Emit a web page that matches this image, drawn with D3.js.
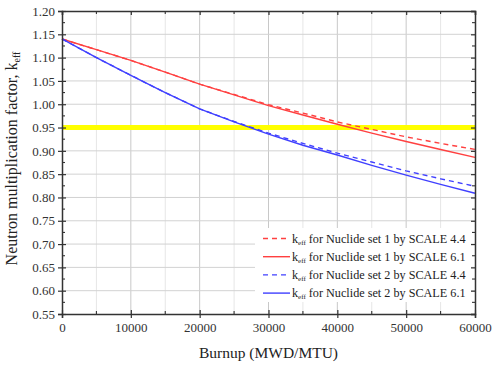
<!DOCTYPE html>
<html>
<head>
<meta charset="utf-8">
<script src="https://cdn.jsdelivr.net/npm/d3@7"></script>
<style>
  html, body { margin: 0; padding: 0; background: #fff; }
  svg { display: block; font-family: "Liberation Serif", "Times New Roman", serif; }
</style>
</head>
<body>
<svg id="chart" width="495" height="367"></svg>
<script>
// Burnup steps (MWD/MTU)
const burnup = [0, 5000, 10000, 15000, 20000, 25000, 30000, 35000, 40000, 45000, 50000, 55000, 60000];

// k_eff series
const set1Scale44 = [1.140, 1.117, 1.094, 1.069, 1.043, 1.021, 0.999, 0.981, 0.962, 0.946, 0.930, 0.916, 0.903];
const set1Scale61 = [1.140, 1.117, 1.094, 1.069, 1.043, 1.020, 0.997, 0.977, 0.957, 0.938, 0.920, 0.903, 0.886];
const set2Scale44 = [1.140, 1.100, 1.062, 1.025, 0.990, 0.963, 0.938, 0.916, 0.895, 0.876, 0.857, 0.840, 0.824];
const set2Scale61 = [1.140, 1.100, 1.062, 1.025, 0.990, 0.962, 0.936, 0.912, 0.891, 0.869, 0.848, 0.828, 0.809];

const limitValue = 0.95;

const xTicks = [0, 10000, 20000, 30000, 40000, 50000, 60000];
const yTicks = [0.55, 0.60, 0.65, 0.70, 0.75, 0.80, 0.85, 0.90, 0.95, 1.00, 1.05, 1.10, 1.15, 1.20];

const seriesNames = [
  "for Nuclide set 1 by SCALE 4.4",
  "for Nuclide set 1 by SCALE 6.1",
  "for Nuclide set 2 by SCALE 4.4",
  "for Nuclide set 2 by SCALE 6.1"
];
const seriesColors = ["#ff4040", "#ff4040", "#4040ff", "#4040ff"];
const seriesDashed = [true, false, true, false];
const seriesValues = [set1Scale44, set1Scale61, set2Scale44, set2Scale61];

const margin = { left: 62, right: 20, top: 11, bottom: 53 };
const W = 495, H = 367;
const svg = d3.select("#chart");

const x = d3.scaleLinear().domain([0, 60000]).range([margin.left, W - margin.right]);
const y = d3.scaleLinear().domain([0.55, 1.20]).range([H - margin.bottom, margin.top]);

const x0 = x.range()[0], x1 = x.range()[1];
const yb = y.range()[0], yt = y.range()[1];

// grid
const grid = svg.append("g");
const minorX = d3.range(5000, 60000, 10000);
grid.selectAll("line.mx").data(minorX).join("line")
  .attr("x1", d => x(d)).attr("x2", d => x(d)).attr("y1", yt).attr("y2", yb)
  .attr("stroke", "#e6e6e6").attr("stroke-width", 1);
grid.selectAll("line.gx").data(xTicks.slice(1, -1)).join("line")
  .attr("x1", d => x(d)).attr("x2", d => x(d)).attr("y1", yt).attr("y2", yb)
  .attr("stroke", "#c8c8c8").attr("stroke-width", 1);
grid.selectAll("line.gy").data(yTicks.slice(1, -1)).join("line")
  .attr("x1", x0).attr("x2", x1).attr("y1", d => y(d)).attr("y2", d => y(d))
  .attr("stroke", "#d2d2d2").attr("stroke-width", 1);

// 0.95 limit line
svg.append("line")
  .attr("x1", x0).attr("x2", x1)
  .attr("y1", y(limitValue)).attr("y2", y(limitValue))
  .attr("stroke", "#ffff00").attr("stroke-width", 5);

// series
const line = d3.line().x((d, i) => x(burnup[i])).y(d => y(d));
const plot = svg.append("g");
seriesValues.forEach((vals, k) => {
  plot.append("path")
    .datum(vals)
    .attr("d", line)
    .attr("fill", "none")
    .attr("stroke", seriesColors[k])
    .attr("stroke-width", 1.4)
    .attr("stroke-dasharray", seriesDashed[k] ? "5,4" : null);
});

// legend
const legend = svg.append("g");
legend.append("rect")
  .attr("x", 255).attr("y", 228).attr("width", 216).attr("height", 74)
  .attr("fill", "#fff");
seriesNames.forEach((name, k) => {
  const ly = 238.5 + k * 18.2;
  legend.append("line")
    .attr("x1", 263).attr("x2", 290).attr("y1", ly).attr("y2", ly)
    .attr("stroke", seriesColors[k]).attr("stroke-width", 1.4)
    .attr("stroke-dasharray", seriesDashed[k] ? "5,4" : null);
  const t = legend.append("text")
    .attr("x", 292).attr("y", ly + 4)
    .attr("font-size", 12.2).attr("fill", "#222");
  t.append("tspan").text("k");
  t.append("tspan").attr("font-size", 7).attr("dy", 2).text("eff");
  t.append("tspan").attr("dy", -2).text(" " + name);
});

// axes
const axisColor = "#333";
const fmtY = d3.format(".2f");

const axBottom = svg.append("g").attr("transform", `translate(0,${yb})`)
  .call(d3.axisBottom(x).tickValues(xTicks).tickFormat(d3.format("d")).tickSize(4).tickPadding(5));
const axLeft = svg.append("g").attr("transform", `translate(${x0},0)`)
  .call(d3.axisLeft(y).tickValues(yTicks).tickFormat(fmtY).tickSize(4).tickPadding(3));
const axTop = svg.append("g").attr("transform", `translate(0,${yt})`)
  .call(d3.axisBottom(x).tickValues(xTicks).tickFormat("").tickSize(4));
const axRight = svg.append("g").attr("transform", `translate(${x1},0)`)
  .call(d3.axisLeft(y).tickValues(yTicks).tickFormat("").tickSize(4));

[axBottom, axLeft, axTop, axRight].forEach(g => {
  g.select(".domain").attr("stroke", axisColor).attr("stroke-width", 1.5);
  g.selectAll(".tick line").attr("stroke", axisColor).attr("stroke-width", 1.2);
  g.selectAll("text").attr("font-family", "Liberation Serif, serif")
    .attr("font-size", 13).attr("fill", "#333");
});
// major ticks also cross inward on bottom/left
axBottom.selectAll(".tick").append("line").attr("y2", -4).attr("stroke", axisColor).attr("stroke-width", 1.2);
axLeft.selectAll(".tick").append("line").attr("x2", 4).attr("stroke", axisColor).attr("stroke-width", 1.2);

// minor ticks
const minorYTicks = d3.range(0.575, 1.2, 0.05);
const minor = svg.append("g").attr("stroke", axisColor).attr("stroke-width", 1.1);
minor.selectAll("line.mxb").data(minorX).join("line")
  .attr("x1", d => x(d)).attr("x2", d => x(d)).attr("y1", yb).attr("y2", yb - 3);
minor.selectAll("line.mxt").data(minorX).join("line")
  .attr("x1", d => x(d)).attr("x2", d => x(d)).attr("y1", yt).attr("y2", yt + 3);
minor.selectAll("line.myl").data(minorYTicks).join("line")
  .attr("x1", x0).attr("x2", x0 + 3).attr("y1", d => y(d)).attr("y2", d => y(d));
minor.selectAll("line.myr").data(minorYTicks).join("line")
  .attr("x1", x1).attr("x2", x1 - 3).attr("y1", d => y(d)).attr("y2", d => y(d));

// axis titles
svg.append("text")
  .attr("x", (x0 + x1) / 2).attr("y", 358)
  .attr("text-anchor", "middle").attr("font-size", 15.5).attr("fill", "#222")
  .text("Burnup (MWD/MTU)");

const yTitle = svg.append("text")
  .attr("transform", `translate(17,${(yt + yb) / 2 - 4}) rotate(-90)`)
  .attr("text-anchor", "middle").attr("font-size", 16).attr("fill", "#222");
yTitle.append("tspan").text("Neutron multiplication factor, k");
yTitle.append("tspan").attr("font-size", 10).attr("dy", 3).text("eff");
</script>
</body>
</html>
